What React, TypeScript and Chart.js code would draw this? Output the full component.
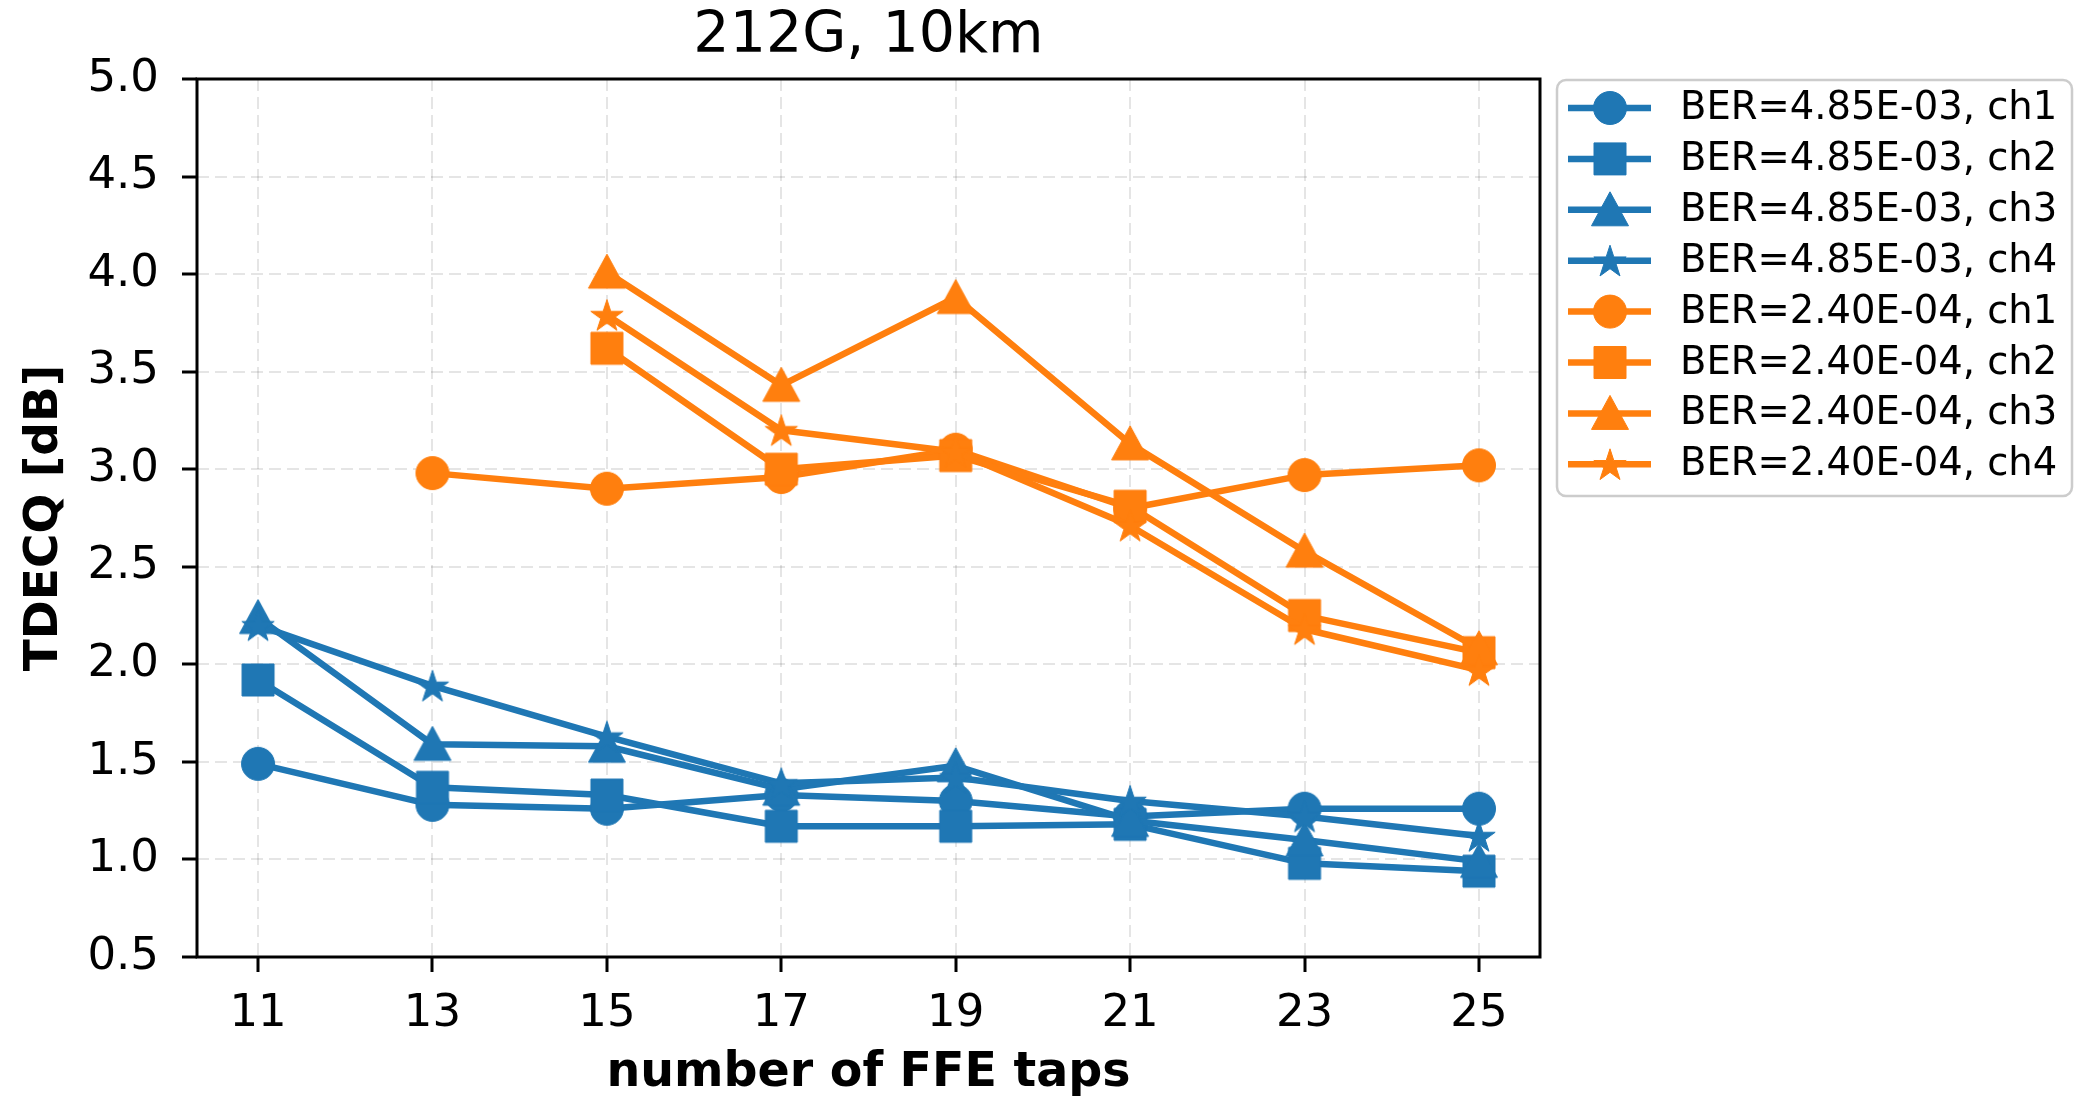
import React, { useEffect, useRef } from 'react';
import { Chart, registerables } from 'chart.js';

Chart.register(...registerables);

const FONT = 'DejaVu Sans';

const TAPS = [11, 13, 15, 17, 19, 21, 23, 25];
const Y_TICKS = [0.5, 1.0, 1.5, 2.0, 2.5, 3.0, 3.5, 4.0, 4.5, 5.0];
const TITLE = '212G, 10km';
const X_TITLE = 'number of FFE taps';
const Y_TITLE = 'TDECQ [dB]';

const SERIES_LABELS = [
  'BER=4.85E-03, ch1',
  'BER=4.85E-03, ch2',
  'BER=4.85E-03, ch3',
  'BER=4.85E-03, ch4',
  'BER=2.40E-04, ch1',
  'BER=2.40E-04, ch2',
  'BER=2.40E-04, ch3',
  'BER=2.40E-04, ch4',
];

const BER_HI_CH1 = [1.49, 1.28, 1.26, 1.33, 1.30, 1.22, 1.26, 1.26];
const BER_HI_CH2 = [1.92, 1.37, 1.33, 1.17, 1.17, 1.18, 0.98, 0.94];
const BER_HI_CH3 = [2.24, 1.59, 1.58, 1.36, 1.48, 1.20, 1.10, 0.99];
const BER_HI_CH4 = [2.20, 1.89, 1.63, 1.39, 1.42, 1.30, 1.22, 1.12];
const BER_LO_CH1 = [null, 2.98, 2.90, 2.96, 3.10, 2.80, 2.97, 3.02];
const BER_LO_CH2 = [null, null, 3.62, 3.00, 3.07, 2.81, 2.25, 2.06];
const BER_LO_CH3 = [null, null, 4.01, 3.43, 3.88, 3.13, 2.58, 2.08];
const BER_LO_CH4 = [null, null, 3.79, 3.20, 3.09, 2.71, 2.18, 1.97];

const SERIES_VALUES = [
  BER_HI_CH1, BER_HI_CH2, BER_HI_CH3, BER_HI_CH4,
  BER_LO_CH1, BER_LO_CH2, BER_LO_CH3, BER_LO_CH4,
];
const SERIES_COLORS = [
  '#1f77b4', '#1f77b4', '#1f77b4', '#1f77b4',
  '#ff7f0e', '#ff7f0e', '#ff7f0e', '#ff7f0e',
];
const SERIES_MARKERS = [
  'circle', 'square', 'triangle', 'star',
  'circle', 'square', 'triangle', 'star',
];

function drawMarker(ctx: CanvasRenderingContext2D, shape: string, x: number, y: number, color: string) {
  ctx.save();
  ctx.fillStyle = color;
  ctx.strokeStyle = color;
  ctx.lineWidth = 1;
  ctx.beginPath();
  if (shape === 'circle') {
    ctx.arc(x, y, 16.5, 0, Math.PI * 2);
  } else if (shape === 'square') {
    ctx.rect(x - 16, y - 16, 32, 32);
  } else if (shape === 'triangle') {
    ctx.moveTo(x, y - 18);
    ctx.lineTo(x + 18.5, y + 16);
    ctx.lineTo(x - 18.5, y + 16);
    ctx.closePath();
  } else if (shape === 'star') {
    const R = 17;
    const r = R * 0.381966;
    for (let k = 0; k < 10; k++) {
      const ang = -Math.PI / 2 + (k * Math.PI) / 5;
      const rad = k % 2 === 0 ? R : r;
      const px = x + rad * Math.cos(ang);
      const py = y + 1.5 + rad * Math.sin(ang);
      if (k === 0) ctx.moveTo(px, py);
      else ctx.lineTo(px, py);
    }
    ctx.closePath();
  }
  ctx.fill();
  ctx.stroke();
  ctx.restore();
}

function makeMarkerCanvas(shape: string, color: string) {
  const c = document.createElement('canvas');
  c.width = 46;
  c.height = 46;
  const cx = c.getContext('2d') as CanvasRenderingContext2D;
  drawMarker(cx, shape, 23, 23, color);
  return c;
}

const frameLegendPlugin = {
  id: 'frameLegend',
  afterDraw(chart: any) {
    const { ctx, chartArea: a } = chart;
    ctx.save();
    // axes frame
    ctx.strokeStyle = '#000';
    ctx.lineWidth = 3;
    ctx.strokeRect(a.left, a.top, a.right - a.left, a.bottom - a.top);

    // title
    ctx.fillStyle = '#000';
    ctx.font = `57px "${FONT}"`;
    ctx.textAlign = 'center';
    ctx.textBaseline = 'alphabetic';
    ctx.fillText(TITLE, (a.left + a.right) / 2, 52);

    // legend box
    const bx = 1557, by = 80, bw = 515, bh = 416, br = 9;
    ctx.beginPath();
    ctx.moveTo(bx + br, by);
    ctx.arcTo(bx + bw, by, bx + bw, by + bh, br);
    ctx.arcTo(bx + bw, by + bh, bx, by + bh, br);
    ctx.arcTo(bx, by + bh, bx, by, br);
    ctx.arcTo(bx, by, bx + bw, by, br);
    ctx.closePath();
    ctx.fillStyle = 'rgba(255,255,255,0.8)';
    ctx.fill();
    ctx.strokeStyle = '#cccccc';
    ctx.lineWidth = 2.5;
    ctx.stroke();

    chart.data.datasets.forEach((ds: any, i: number) => {
      const y = 108 + i * 50.9;
      ctx.beginPath();
      ctx.strokeStyle = ds.borderColor;
      ctx.lineWidth = 6.5;
      ctx.moveTo(1568, y);
      ctx.lineTo(1651, y);
      ctx.stroke();
      drawMarker(ctx, SERIES_MARKERS[i], 1610, y, ds.borderColor);
      ctx.fillStyle = '#000';
      ctx.font = `38.5px "${FONT}"`;
      ctx.textAlign = 'left';
      ctx.textBaseline = 'middle';
      ctx.fillText(ds.label, 1680, y + 1);
    });
    ctx.restore();
  },
};

export default function App() {
  const canvasRef = useRef<HTMLCanvasElement | null>(null);

  useEffect(() => {
    document.body.style.margin = '0';
    document.body.style.overflow = 'hidden';
    const canvas = canvasRef.current;
    if (!canvas) return;

    const datasets = SERIES_VALUES.map((vals, i) => ({
      label: SERIES_LABELS[i],
      data: TAPS.map((t, j) => ({ x: t, y: vals[j] })).filter((p) => p.y !== null),
      borderColor: SERIES_COLORS[i],
      backgroundColor: SERIES_COLORS[i],
      borderWidth: 6.5,
      borderJoinStyle: 'round',
      pointStyle: makeMarkerCanvas(SERIES_MARKERS[i], SERIES_COLORS[i]),
      pointRadius: 16,
      fill: false,
      tension: 0,
      order: SERIES_VALUES.length - i,
    }));

    const chart = new Chart(canvas, {
      type: 'line',
      data: { datasets } as any,
      plugins: [frameLegendPlugin],
      options: {
        animation: false,
        responsive: false,
        devicePixelRatio: 1,
        layout: { padding: { left: 0, top: 79, right: 536, bottom: 0 } },
        plugins: {
          legend: { display: false },
          tooltip: { enabled: false },
          title: { display: false },
        },
        scales: {
          x: {
            type: 'linear',
            min: 10.3,
            max: 25.7,
            afterBuildTicks: (s: any) => {
              s.ticks = TAPS.map((v) => ({ value: v }));
            },
            afterFit: (s: any) => {
              s.height = 142;
            },
            ticks: {
              autoSkip: false,
              maxRotation: 0,
              color: '#000',
              padding: 15,
              font: { family: FONT, size: 45 },
              callback: (v: any) => String(v),
            },
            grid: {
              color: 'rgba(0,0,0,0.1)',
              lineWidth: 2,
              tickColor: '#000',
              tickWidth: 3,
              tickLength: 15,
            },
            border: { display: false, dash: [12, 6] },
            title: {
              display: true,
              text: X_TITLE,
              color: '#000',
              font: { family: FONT, size: 47.5, weight: 'bold', lineHeight: 1.0 },
              padding: { top: 0, bottom: 1.5 },
            },
          },
          y: {
            type: 'linear',
            min: 0.5,
            max: 5.0,
            afterBuildTicks: (s: any) => {
              s.ticks = Y_TICKS.map((v) => ({ value: v }));
            },
            afterFit: (s: any) => {
              s.width = 197;
            },
            ticks: {
              autoSkip: false,
              color: '#000',
              padding: 23,
              font: { family: FONT, size: 45 },
              callback: (v: any) => Number(v).toFixed(1),
            },
            grid: {
              color: 'rgba(0,0,0,0.1)',
              lineWidth: 2,
              tickColor: '#000',
              tickWidth: 3,
              tickLength: 15,
            },
            border: { display: false, dash: [12, 6] },
            title: {
              display: true,
              text: Y_TITLE,
              color: '#000',
              font: { family: FONT, size: 47, weight: 'bold', lineHeight: 1.2 },
              padding: { top: 16.5, bottom: 0 },
            },
          },
        },
      } as any,
    });

    return () => chart.destroy();
  }, []);

  return <canvas ref={canvasRef} width={2076} height={1099} style={{ display: 'block' }} />;
}
